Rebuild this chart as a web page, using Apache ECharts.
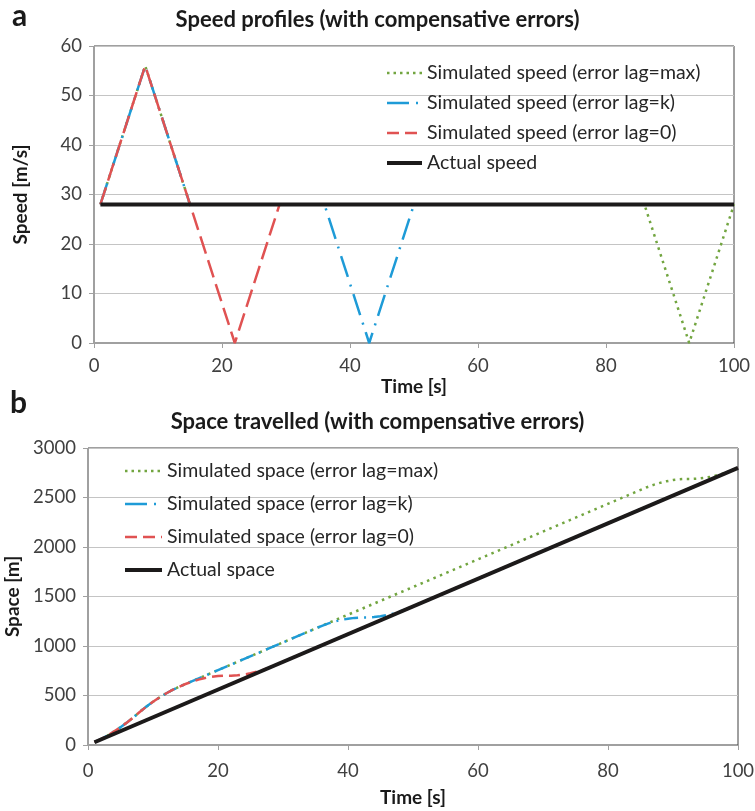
<!DOCTYPE html>
<html><head><meta charset="utf-8">
<script src="https://cdn.jsdelivr.net/npm/echarts@6/dist/echarts.min.js"></script>
<style>html,body{margin:0;padding:0;background:#fff}#c{width:755px;height:811px}</style>
</head><body><div id="c"></div>
<script>
// ---- Speed profiles (vertices of the piecewise-linear profiles) ----
const speedLagMaxT = [1, 8, 15, 86, 93, 100];
const speedLagMaxV = [28, 56, 28, 28, 0, 28];
const speedLagKT = [1, 8, 15, 36, 43, 50, 100];
const speedLagKV = [28, 56, 28, 28, 0, 28, 28];
const speedLag0T = [1, 8, 15, 22, 29, 100];
const speedLag0V = [28, 56, 28, 0, 28, 28];
const speedActualT = [1, 100];
const speedActualV = [28, 28];

// ---- Space travelled ----
const spaceLagMaxT = [1,2,3,4,5,6,7,8,9,10,11,12,13,14,15,86,87,88,89,90,91,92,93,94,95,96,97,98,99,100];
const spaceLagMaxV = [28,60,96,136,180,228,280,336,388,436,480,520,556,588,616,2604,2628,2648,2664,2676,2684,2688,2688,2692,2700,2712,2728,2748,2772,2800];
const spaceLagKT = [1,2,3,4,5,6,7,8,9,10,11,12,13,14,15,36,37,38,39,40,41,42,43,44,45,46,47,48,49,50,100];
const spaceLagKV = [28,60,96,136,180,228,280,336,388,436,480,520,556,588,616,1204,1228,1248,1264,1276,1284,1288,1288,1292,1300,1312,1328,1348,1372,1400,2800];
const spaceLag0T = [1,2,3,4,5,6,7,8,9,10,11,12,13,14,15,16,17,18,19,20,21,22,23,24,25,26,27,28,29,100];
const spaceLag0V = [28,60,96,136,180,228,280,336,388,436,480,520,556,588,616,640,660,676,688,696,700,700,704,712,724,740,760,784,812,2800];
const spaceActualT = [1, 100];
const spaceActualV = [28, 2800];

const speedNames = ['Simulated speed (error lag=max)', 'Simulated speed (error lag=k)', 'Simulated speed (error lag=0)', 'Actual speed'];
const spaceNames = ['Simulated space (error lag=max)', 'Simulated space (error lag=k)', 'Simulated space (error lag=0)', 'Actual space'];

const zip = (t, v) => t.map((x, i) => [x, v[i]]);

const GREEN = '#72a540', BLUE = '#1e9bd7', RED = '#e05252', BLACK = '#1c1a1a';
const FONT = 'Lato';
const TICK = 18.5;

function xAxis(gi, margin, nameGap) {
  return {
    type: 'value', gridIndex: gi, min: 0, max: 100, interval: 20,
    name: 'Time [s]', nameLocation: 'middle', nameGap: nameGap,
    nameTextStyle: { fontFamily: FONT, fontWeight: 'bold', fontSize: 19, color: '#1a1a1a' },
    axisLine: { show: true, lineStyle: { color: '#a0a0a0', width: 1 } },
    axisTick: { show: true, inside: false, length: 5, lineStyle: { color: '#a0a0a0' } },
    axisLabel: { fontFamily: FONT, fontSize: TICK, color: '#404040', margin: margin },
    splitLine: { show: false }
  };
}
function yAxis(gi, max, interval, name, gap) {
  return {
    type: 'value', gridIndex: gi, min: 0, max: max, interval: interval,
    name: name, nameLocation: 'middle', nameGap: gap,
    nameTextStyle: { fontFamily: FONT, fontWeight: 'bold', fontSize: 19, color: '#1a1a1a' },
    axisLine: { show: true, lineStyle: { color: '#a0a0a0', width: 1 } },
    axisTick: { show: true, inside: false, length: 5, lineStyle: { color: '#a0a0a0' } },
    axisLabel: { fontFamily: FONT, fontSize: TICK, color: '#404040', margin: 12, formatter: v => String(v) },
    splitLine: { show: true, lineStyle: { color: '#c4c4c4', width: 1 } }
  };
}
function legendData(names) {
  return [
    { name: names[0], lineStyle: { type: [2.5, 4], width: 2.5 } },
    { name: names[1], lineStyle: { type: [22, 7, 2, 8], width: 2.5 } },
    { name: names[2], lineStyle: { type: [12, 6], width: 2.5 } },
    { name: names[3], lineStyle: { width: 4 } }
  ];
}
function lines(names, xi, data, dash) {
  const cols = [GREEN, BLUE, RED, BLACK];
  const widths = [2.5, 2.5, 2.5, 4];
  return data.map((d, i) => ({
    name: names[i], type: 'line', xAxisIndex: xi, yAxisIndex: xi,
    data: d, symbol: 'none', animation: false,
    lineStyle: { color: cols[i], width: widths[i], type: dash[i] },
    itemStyle: { color: cols[i] }
  }));
}

const chart = echarts.init(document.getElementById('c'), null, { renderer: 'canvas' });
chart.setOption({
  backgroundColor: '#fff',
  animation: false,
  title: [
    { text: 'Speed profiles (with compensative errors)', left: 'center', top: 4,
      textStyle: { fontFamily: FONT, fontWeight: 'bold', fontSize: 22, color: '#1a1a1a' } },
    { text: 'Space travelled (with compensative errors)', left: 'center', top: 406,
      textStyle: { fontFamily: FONT, fontWeight: 'bold', fontSize: 22, color: '#1a1a1a' } }
  ],
  graphic: [
    { type: 'text', left: 12, top: 1, style: { text: 'a', fontFamily: FONT, fontWeight: 'bold', fontSize: 30, fill: '#1a1a1a' } },
    { type: 'text', left: 10, top: 388, style: { text: 'b', fontFamily: FONT, fontWeight: 'bold', fontSize: 30, fill: '#1a1a1a' } }
  ],
  grid: [
    { left: 94, top: 46, width: 640, height: 297, show: true, borderColor: '#404040', borderWidth: 1,
      backgroundColor: 'transparent', containLabel: false, outerBoundsMode: 'none' },
    { left: 88, top: 448, width: 650, height: 297, show: true, borderColor: '#404040', borderWidth: 1,
      backgroundColor: 'transparent', containLabel: false, outerBoundsMode: 'none' }
  ],
  xAxis: [xAxis(0, 14, 31), xAxis(1, 17, 43)],
  yAxis: [yAxis(0, 60, 10, 'Speed [m/s]', 64), yAxis(1, 3000, 500, 'Space [m]', 65)],
  legend: [
    { data: legendData(speedNames), orient: 'vertical', left: 380, top: 58,
      itemWidth: 35, itemHeight: 14, itemGap: 10, selectedMode: false,
      itemStyle: { opacity: 0 },
      textStyle: { fontFamily: FONT, fontSize: 19.5, color: '#262626', lineHeight: 14 } },
    { data: legendData(spaceNames), orient: 'vertical', left: 118, top: 456,
      itemWidth: 37, itemHeight: 14, itemGap: 13, selectedMode: false,
      itemStyle: { opacity: 0 },
      textStyle: { fontFamily: FONT, fontSize: 19.5, color: '#262626', lineHeight: 14 } }
  ],
  series: [
    ...lines(speedNames, 0, [zip(speedLagMaxT, speedLagMaxV), zip(speedLagKT, speedLagKV), zip(speedLag0T, speedLag0V), zip(speedActualT, speedActualV)],
      [[2.5, 4.5], [22, 8, 2, 8], [18, 7], 'solid']),
    ...lines(spaceNames, 1, [zip(spaceLagMaxT, spaceLagMaxV), zip(spaceLagKT, spaceLagKV), zip(spaceLag0T, spaceLag0V), zip(spaceActualT, spaceActualV)],
      [[2.5, 4.5], [14, 6, 2, 6], [11, 6], 'solid'])
  ]
});
</script>
</body></html>
